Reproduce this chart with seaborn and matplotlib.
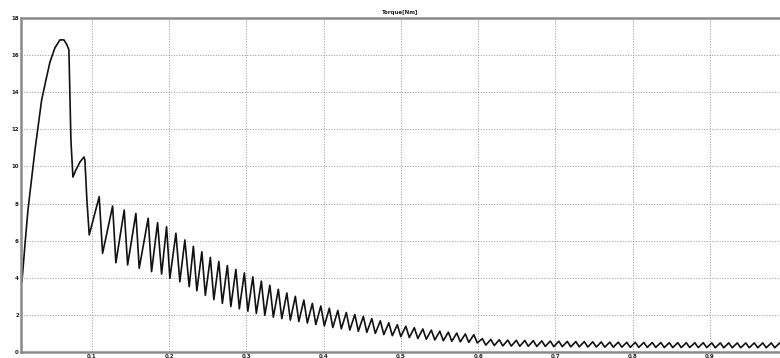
import matplotlib
matplotlib.use("Agg")
import matplotlib.pyplot as plt
import seaborn as sns
import pandas as pd

# ---- data (time in s, torque in Nm) ----
head_t = [0.0082, 0.0094, 0.0133, 0.0172, 0.0263, 0.0349, 0.0405, 0.0457, 0.0521,
          0.0586, 0.0638, 0.0677, 0.0702, 0.0709, 0.0728, 0.0754, 0.0793, 0.0845,
          0.0897, 0.0909, 0.0935, 0.0965,
          0.1094, 0.1138, 0.1268, 0.1310, 0.1418, 0.1462, 0.1569, 0.1612, 0.1728,
          0.1772, 0.1850, 0.1902, 0.1966, 0.2009, 0.2087, 0.2138, 0.2203, 0.2259]
head_v = [4.31, 3.77, 5.77, 7.65, 10.89, 13.58, 14.66, 15.63, 16.39,
          16.82, 16.82, 16.55, 16.28, 14.93, 11.43, 9.43, 9.81, 10.24,
          10.51, 10.35, 8.19, 6.31,
          8.37, 5.32, 7.87, 4.81, 7.65, 4.69, 7.47, 4.51, 7.21,
          4.33, 6.97, 4.20, 6.75, 3.97, 6.40, 3.79, 6.04, 3.52]

peak_t = [0.2313, 0.2423, 0.2533, 0.2643, 0.2753, 0.2863, 0.2973, 0.3083, 0.3193, 0.3303,
          0.3413, 0.3523, 0.3633, 0.3743, 0.3853, 0.3963, 0.4073, 0.4183, 0.4293, 0.4403,
          0.4513, 0.4623, 0.4733, 0.4843, 0.4953, 0.5063, 0.5173, 0.5283, 0.5393, 0.5503,
          0.5613, 0.5723, 0.5833, 0.5943, 0.6053, 0.6163, 0.6273, 0.6383, 0.6493, 0.6603,
          0.6713, 0.6823, 0.6933, 0.7043, 0.7153, 0.7263, 0.7373, 0.7483, 0.7593, 0.7703,
          0.7813, 0.7923, 0.8033, 0.8143, 0.8253, 0.8363, 0.8473, 0.8583, 0.8693, 0.8803,
          0.8913, 0.9023, 0.9133, 0.9243, 0.9353, 0.9463, 0.9573, 0.9683, 0.9793, 0.9903]
peak_v = [5.70, 5.40, 5.10, 4.88, 4.66, 4.45, 4.26, 4.05, 3.82, 3.60,
          3.38, 3.18, 3.00, 2.80, 2.62, 2.48, 2.36, 2.24, 2.13, 2.02,
          1.92, 1.80, 1.68, 1.57, 1.47, 1.39, 1.31, 1.24, 1.18, 1.12,
          1.07, 1.02, 0.97, 0.93, 0.72, 0.68, 0.66, 0.64, 0.63, 0.62,
          0.61, 0.60, 0.59, 0.58, 0.57, 0.56, 0.56, 0.55, 0.54, 0.53,
          0.53, 0.52, 0.52, 0.51, 0.51, 0.51, 0.50, 0.50, 0.50, 0.50,
          0.50, 0.49, 0.49, 0.49, 0.49, 0.49, 0.49, 0.49, 0.49, 0.49]

trough_t = [0.2358, 0.2468, 0.2578, 0.2688, 0.2798, 0.2908, 0.3018, 0.3128, 0.3238, 0.3348,
            0.3458, 0.3568, 0.3678, 0.3788, 0.3898, 0.4008, 0.4118, 0.4228, 0.4338, 0.4448,
            0.4558, 0.4668, 0.4778, 0.4888, 0.4998, 0.5108, 0.5218, 0.5328, 0.5438, 0.5548,
            0.5658, 0.5768, 0.5878, 0.5988, 0.6098, 0.6208, 0.6318, 0.6428, 0.6538, 0.6648,
            0.6758, 0.6868, 0.6978, 0.7088, 0.7198, 0.7308, 0.7418, 0.7528, 0.7638, 0.7748,
            0.7858, 0.7968, 0.8078, 0.8188, 0.8298, 0.8408, 0.8518, 0.8628, 0.8738, 0.8848,
            0.8958, 0.9068, 0.9178, 0.9288, 0.9398, 0.9508, 0.9618, 0.9728, 0.9838, 0.9948]
trough_v = [3.30, 3.05, 2.82, 2.62, 2.45, 2.33, 2.20, 2.08, 1.98, 1.88,
            1.80, 1.72, 1.64, 1.56, 1.48, 1.40, 1.32, 1.25, 1.18, 1.12,
            1.06, 1.00, 0.94, 0.88, 0.83, 0.78, 0.73, 0.69, 0.65, 0.61,
            0.58, 0.55, 0.52, 0.49, 0.37, 0.35, 0.33, 0.32, 0.31, 0.31,
            0.30, 0.30, 0.29, 0.29, 0.28, 0.28, 0.27, 0.27, 0.26, 0.26,
            0.26, 0.25, 0.25, 0.25, 0.25, 0.24, 0.24, 0.24, 0.24, 0.24,
            0.24, 0.23, 0.23, 0.23, 0.23, 0.23, 0.23, 0.23, 0.23, 0.23]

x_ticks = [0.1, 0.2, 0.3, 0.4, 0.5, 0.6, 0.7, 0.8, 0.9]
x_tick_labels = ["0.1", "0.2", "0.3", "0.4", "0.5", "0.6", "0.7", "0.8", "0.9"]
y_ticks = [0, 2, 4, 6, 8, 10, 12, 14, 16, 18]
title = "Torque[Nm]"

# ---- build the series ----
t_all = list(head_t)
v_all = list(head_v)
for pt, pv, tt, tv in zip(peak_t, peak_v, trough_t, trough_v):
    t_all += [pt, tt]
    v_all += [pv, tv]
df = pd.DataFrame({"t": t_all, "v": v_all})

sns.set_theme(style="white")
fig = plt.figure(figsize=(7.8, 3.58), dpi=100)
ax = fig.add_axes([21 / 780, 6 / 358, 1 - 21 / 780, (352 - 18) / 358])

sns.lineplot(data=df, x="t", y="v", sort=False, estimator=None, color="#111111",
             lw=1.2, ax=ax)

ax.set_xlim(0.0082, 0.9906)
ax.set_ylim(0, 18)
ax.set_xticks(x_ticks)
ax.set_xticklabels(x_tick_labels)
ax.set_yticks(y_ticks)
ax.set_yticklabels([str(v) for v in y_ticks])
ax.set_xlabel("")
ax.set_ylabel("")
ax.grid(True, linestyle=(0, (1.2, 1.5)), color="#a5a5a5", lw=0.7)
ax.tick_params(axis="both", direction="in", length=3, width=1.0, color="#444444",
               labelsize=4, pad=1.5, labelcolor="#222222")
for lab in ax.get_xticklabels() + ax.get_yticklabels():
    lab.set_fontweight("bold")
for side in ["left", "bottom", "top"]:
    ax.spines[side].set_color("#8a8a8a")
    ax.spines[side].set_linewidth(1.8)
    ax.spines[side].set_visible(True)
ax.spines["right"].set_visible(False)
ax.set_title(title, fontsize=4, fontweight="bold", pad=3, color="#222222")

fig.savefig("out.png", dpi=100)
